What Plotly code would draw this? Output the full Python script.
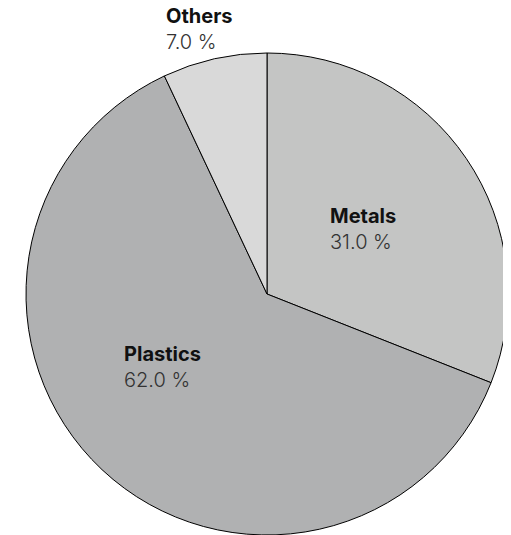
import plotly.graph_objects as go

labels = ["Metals", "Plastics", "Others"]
values = [31.0, 62.0, 7.0]
colors = ["#c4c5c4", "#b0b1b2", "#d9d9d9"]

W, H = 511, 535
OFF = 8  # page body margin offset

# label anchor positions in screenshot pixels (left, top)
label_px = {"Metals": (328, 202), "Plastics": (122, 340), "Others": (164, 2)}

total = sum(values)
fig = go.Figure(go.Pie(
    labels=labels, values=values, sort=False, direction="clockwise", rotation=0,
    marker=dict(colors=colors, line=dict(color="#000000", width=1)),
    textinfo="none", hoverinfo="label+percent", showlegend=False,
    domain=dict(x=[(26 - OFF) / W, (508 - OFF) / W],
                y=[(H - (535 - OFF)) / H, (H - (53 - OFF)) / H]),
))

for lab, v in zip(labels, values):
    px, py = label_px[lab]
    fig.add_annotation(
        x=(px - OFF) / W, y=1 - (py - OFF) / H, xref="paper", yref="paper",
        xanchor="left", yanchor="top", align="left", showarrow=False,
        text=f"<b>{lab}</b><br><span style='color:#333333'>{v / total * 100:.1f} %</span>",
        font=dict(family="Inter, Roboto, sans-serif", size=20, color="#111111", weight=300),
    )

fig.update_layout(width=W, height=H, margin=dict(l=0, r=0, t=0, b=0),
                  paper_bgcolor="white", plot_bgcolor="white")
fig.write_html("out.html")
